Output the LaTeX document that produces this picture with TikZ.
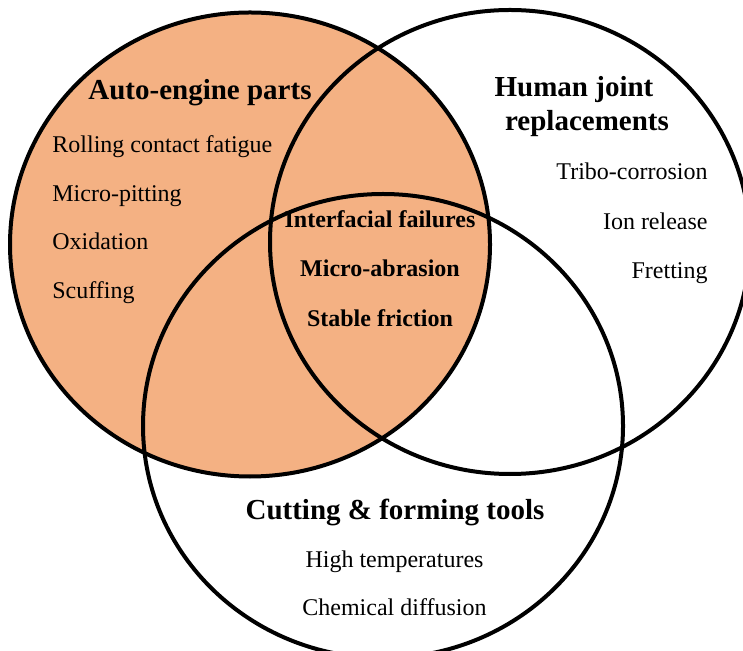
\documentclass[tikz,border=0pt]{standalone}
\usepackage{fontspec}
\setmainfont{Liberation Serif}

\definecolor{autofill}{HTML}{F4B183}

\begin{document}
\begin{tikzpicture}[x=0.5pt, y=-0.5pt,
    ring/.style={line width=2pt, draw=black},
    heading/.style={font=\bfseries\fontsize{14.5}{17}\selectfont, inner sep=0pt},
    item/.style={font=\fontsize{12}{14}\selectfont, inner sep=0pt},
    shared/.style={font=\bfseries\fontsize{12}{14}\selectfont, inner sep=0pt},
]
\clip (0,0) rectangle (743,651);
\useasboundingbox (0,0) rectangle (743,651);

% Circles
\fill[autofill] (250,244.5) ellipse [x radius=240, y radius=232];
\draw[ring] (250,244.5) ellipse [x radius=240, y radius=232];
\draw[ring] (510,242) ellipse [x radius=240, y radius=232];
\draw[ring] (383,426) ellipse [x radius=240, y radius=232];

% Auto-engine parts
\node[heading, anchor=base] (auto) at (200,100) {Auto-engine parts};
\node[item, anchor=base west] (rcf) at (52,153) {Rolling contact fatigue};
\node[item, anchor=base west] (pit) at (52,201.5) {Micro-pitting};
\node[item, anchor=base west] (oxi) at (52,250) {Oxidation};
\node[item, anchor=base west] (scuff) at (52,298.5) {Scuffing};

% Human joint replacements
\node[heading, anchor=base] (joint) at (574,97) {Human joint};
\node[heading, anchor=base] (repl) at (587,131) {replacements};
\node[item, anchor=base east] (tribo) at (708,180) {Tribo-corrosion};
\node[item, anchor=base east] (ion) at (708,229.5) {Ion release};
\node[item, anchor=base east] (fret) at (708,279) {Fretting};

% Shared
\node[shared, anchor=base] (iface) at (380,228) {Interfacial failures};
\node[shared, anchor=base] (abr) at (380,277) {Micro-abrasion};
\node[shared, anchor=base] (fric) at (380,326.5) {Stable friction};

% Cutting & forming tools
\node[heading, anchor=base] (tools) at (395,519) {Cutting \& forming tools};
\node[item, anchor=base] (temp) at (394.5,567) {High temperatures};
\node[item, anchor=base] (diff) at (394.5,615) {Chemical diffusion};

\end{tikzpicture}
\end{document}
